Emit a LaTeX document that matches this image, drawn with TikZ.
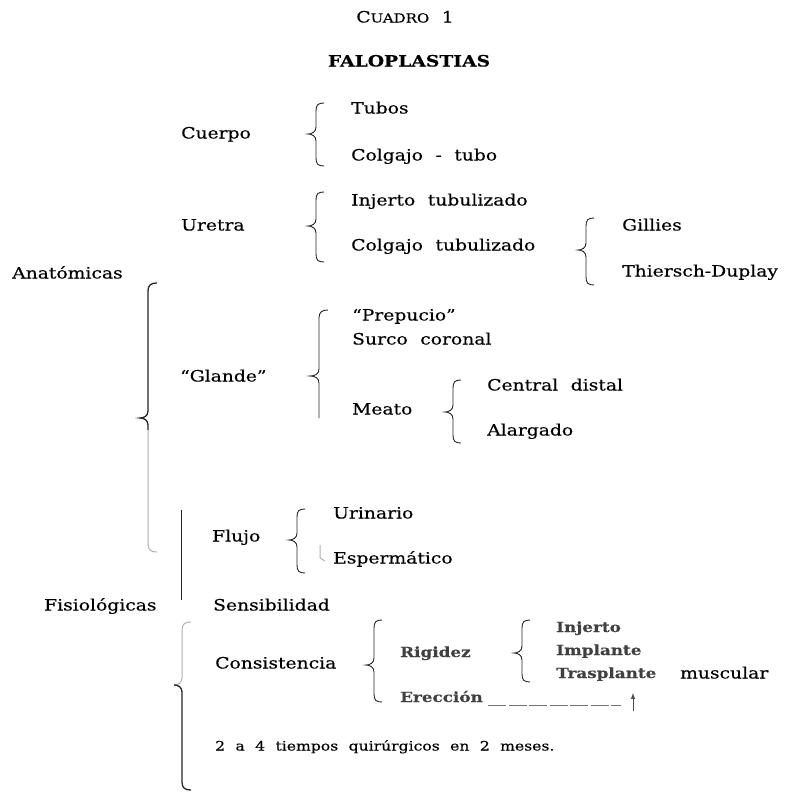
\documentclass[tikz,border=0pt]{standalone}
\usepackage{fontspec}
\setmainfont{DejaVu Serif}[FakeStretch=1.2,WordSpace=2.1,FakeBold=0.3]

% curly bracket: x of stem, top, tip, bottom
\newcommand{\curly}[4]{%
  \draw[brc] (#1+8,#2) .. controls (#1+2,#2) and (#1,#2+2) .. (#1,#2+8)
    -- (#1,#3-7) .. controls (#1,#3-2) and (#1-4,#3) .. (#1-8,#3)
    .. controls (#1-4,#3) and (#1,#3+2) .. (#1,#3+7)
    -- (#1,#4-8) .. controls (#1,#4-2) and (#1+2,#4) .. (#1+8,#4);}

\begin{document}
\begin{tikzpicture}[x=1pt,y=-1pt,
  lbl/.style={anchor=west,inner sep=0pt,text height=11pt,text depth=0pt,font=\fontsize{15.6}{18}\selectfont},
  sml/.style={lbl,text height=10pt,font=\fontsize{14}{16}\selectfont\bfseries,text=black!75},
  lastline/.style={lbl,text height=9pt,font=\fontsize{13}{15}\selectfont},
  brc/.style={line width=0.9pt,black!85},
  heavy/.style={line width=1.3pt,black!85},
  faint/.style={line width=1pt,black!30},
  dashline/.style={line width=1pt,black!55,dash pattern=on 18pt off 2.5pt},
  arrowup/.style={-latex,line width=1pt,black!70}]
  \fill[white] (0,0) rectangle (787,796);
  \useasboundingbox (0,0) rectangle (787,796);

%title
  \node[lbl,anchor=center] (cuadro) at (405,17) {C{\fontsize{12.5}{15}\selectfont UADRO} 1};
  \node[lbl,anchor=center,font=\fontsize{15.6}{18}\selectfont\bfseries] (falo) at (409,61) {FALOPLASTIAS};

%Cuerpo
  \node[lbl] (cuerpo) at (181,133) {Cuerpo};
  \curly{316}{103}{134}{166}
  \node[lbl] (tubos) at (351,108) {Tubos};
  \node[lbl] (colgtubo) at (351,155) {Colgajo - tubo};

%Uretra
  \node[lbl] (uretra) at (181,225) {Uretra};
  \curly{316}{192}{226}{262}
  \node[lbl] (injtub) at (351,200) {Injerto tubulizado};
  \node[lbl] (colgtub) at (351,245) {Colgajo tubulizado};
  \curly{586}{218}{250}{285}
  \node[lbl] (gillies) at (622,225) {Gillies};
  \node[lbl] (thiersch) at (622,271) {Thiersch-Duplay};

%Anatomicas
  \node[lbl] (anat) at (12,273) {Anatómicas};
  \draw[heavy] (157,283) .. controls (151,283) and (148,285) .. (148,291)
    -- (148,411) .. controls (148,416) and (144,418) .. (140,418)
    .. controls (144,418) and (148,420) .. (148,425) -- (148,430);
  \draw[faint] (148,430) -- (148,544) .. controls (148,550) and (151,552) .. (157,552);

%Glande
  \node[lbl] (glande) at (180,376) {``Glande''};
  \draw[brc] (328,310) .. controls (322,310) and (319,312) .. (319,318)
    -- (319,369) .. controls (319,374) and (315,376) .. (310,376)
    .. controls (315,376) and (319,378) .. (319,383) -- (319,418);
  \node[lbl] (prepucio) at (352,315) {``Prepucio''};
  \node[lbl] (surco) at (352,339) {Surco coronal};
  \node[lbl] (meato) at (352,409) {Meato};
  \curly{453}{380}{412}{443}
  \node[lbl] (central) at (487,385) {Central distal};
  \node[lbl] (alargado) at (487,430) {Alargado};

%Flujo
  \coordinate (flA) at (181,510);
  \coordinate (flB) at (181,600);
  \draw[brc] (flA) -- (flB);
  \node[lbl] (flujo) at (212,536) {Flujo};
  \curly{297}{509}{540}{573}
  \node[lbl] (urinario) at (333,513) {Urinario};
  \node[lbl] (esperm) at (333,558) {Espermático};
  \draw[faint] (320,545) -- (320,558) -- (325,561);

%Fisiologicas
  \node[lbl] (fisio) at (44,605) {Fisiológicas};
  \node[lbl] (sensib) at (213,605) {Sensibilidad};
  \draw[faint] (191,622) .. controls (185,622) and (182,624) .. (182,630)
    -- (182,678) .. controls (182,683) and (178,685) .. (174,685);
  \draw[heavy] (174,685) .. controls (178,685) and (182,687) .. (182,692)
    -- (182,782) .. controls (182,788) and (185,790) .. (191,790);

%Consistencia
  \node[lbl] (consist) at (215,663) {Consistencia};
  \curly{374}{620}{665}{702}
  \node[sml] (rigidez) at (400,652) {Rigidez};
  \curly{522}{620}{653}{682}
  \node[sml] (injerto) at (556,627) {Injerto};
  \node[sml] (implante) at (556,650) {Implante};
  \node[sml] (trasp) at (556,673) {Trasplante};
  \node[lbl] (muscular) at (680,673) {muscular};
  \node[sml] (erec) at (400,697) {Erección};
  \coordinate (dashA) at (488,705);
  \coordinate (dashB) at (621,705);
  \draw[dashline] (dashA) -- (dashB);
  \coordinate (arrfoot) at (633,711);
  \coordinate (arrtip) at (633,693);
  \draw[arrowup] (arrfoot) -- (arrtip);

%tiempos
  \node[lastline] (tiempos) at (215,746) {2 a 4 tiempos quirúrgicos en 2 meses.};

\end{tikzpicture}
\end{document}
